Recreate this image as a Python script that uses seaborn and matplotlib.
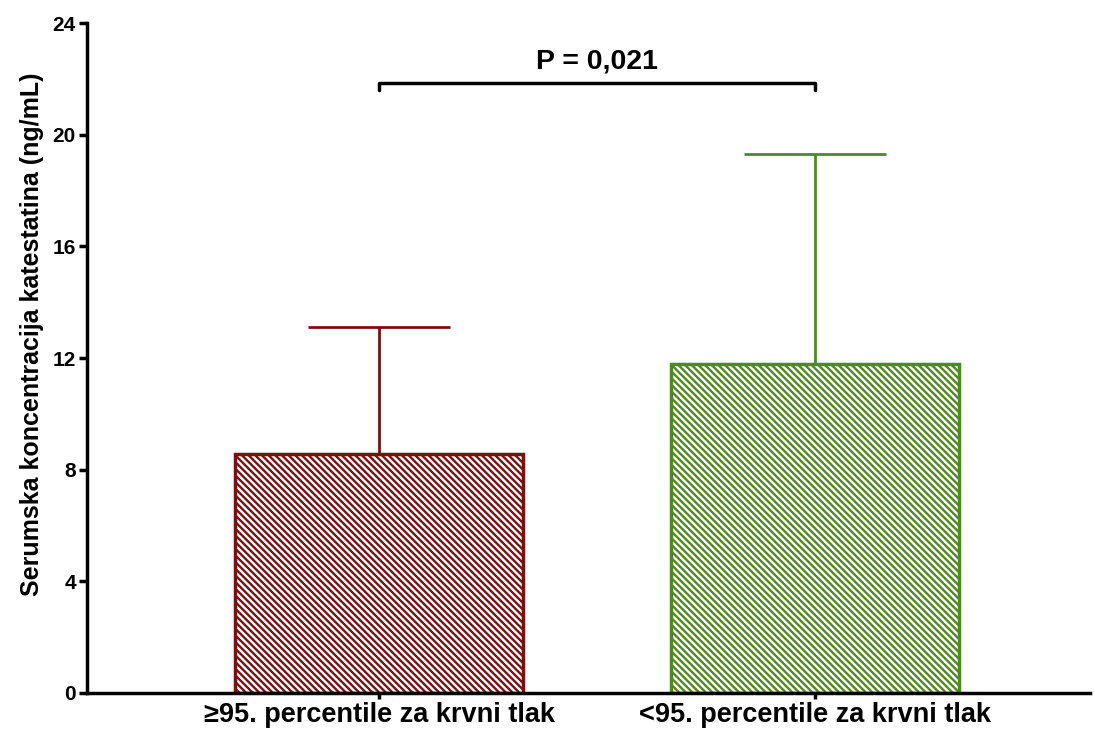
import numpy as np
import pandas as pd
import matplotlib
matplotlib.use("Agg")
import matplotlib.pyplot as plt
import seaborn as sns

# data
groups = ["≥95. percentile za krvni tlak", "<95. percentile za krvni tlak"]
means = [8.55, 11.8]
sds = [4.55, 7.5]
colors = ["#7A1010", "#4F8A1F"]
p_text = "P = 0,021"
bracket_y = 21.85
y_ticks = [0, 4, 8, 12, 16, 20, 24]

sns.set_style("ticks")
plt.rcParams['font.family'] = ['Liberation Sans', 'DejaVu Sans']
plt.rcParams['hatch.linewidth'] = 1.7
plt.rcParams['text.color'] = 'black'
plt.rcParams['axes.labelcolor'] = 'black'
plt.rcParams['xtick.color'] = 'black'
plt.rcParams['ytick.color'] = 'black'
plt.rcParams['axes.edgecolor'] = 'black'

df = pd.DataFrame({"group": groups, "mean": means})

fig = plt.figure(figsize=(10.94, 7.31), dpi=100)
ax = fig.add_axes([0.0795, 0.052, 0.9165, 0.9165])

sns.barplot(data=df, x="group", y="mean", hue="group", palette=["white", "white"],
            errorbar=None, width=0.66, legend=False, ax=ax)

for bar, c in zip(ax.patches, colors):
    bar.set_edgecolor(c)
    bar.set_linewidth(2.5)
    bar.set_hatch("\\" * 5)

for i, (m, s, c) in enumerate(zip(means, sds, colors)):
    ax.errorbar(i, m, yerr=[[0], [s]], color=c, capsize=51, elinewidth=2,
                capthick=2, zorder=0)

# significance bracket
ax.plot([0, 0, 1, 1], [bracket_y - 0.25, bracket_y, bracket_y, bracket_y - 0.25],
        color="black", lw=2.5, clip_on=False)
ax.text(0.5, bracket_y + 0.3, p_text, ha="center", va="bottom",
        fontsize=20.5, fontweight="bold")

ax.set_xlim(-0.67, 1.63)
ax.set_ylim(0, 24)
ax.set_yticks(y_ticks)
ax.set_yticklabels([str(t) for t in y_ticks], fontsize=15, fontweight="bold")
ax.set_xticks([0, 1])
ax.set_xticklabels(groups, fontsize=19.5, fontweight="bold")
ax.set_xlabel("")
ax.set_ylabel("Serumska koncentracija katestatina (ng/mL)", fontsize=18,
              fontweight="bold")
ax.yaxis.set_label_coords(-0.043, 0.536)
ax.tick_params(axis="y", width=2.5, length=6, pad=2)
ax.tick_params(axis="x", width=2.5, length=4, pad=2.5)
for sp in ["left", "bottom"]:
    ax.spines[sp].set_linewidth(2.5)
sns.despine(ax=ax)

fig.savefig("out.png", dpi=100)
